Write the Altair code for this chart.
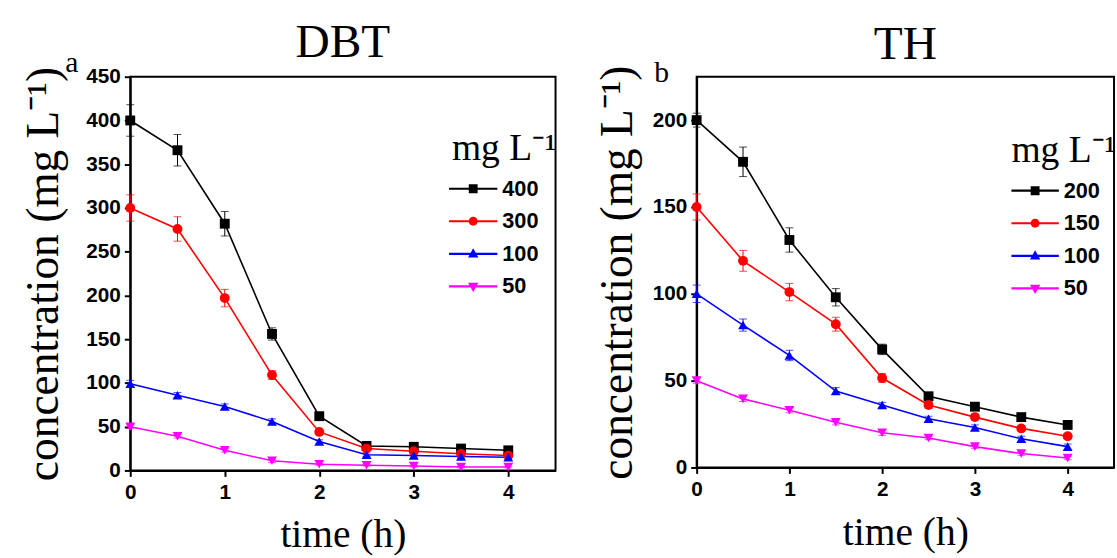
import altair as alt
import pandas as pd

# ---------------- data ----------------
times = [0, 0.5, 1, 1.5, 2, 2.5, 3, 3.5, 4]

dbt_series = ["400", "300", "100", "50"]
dbt_400 = [400, 366, 282, 156, 62, 28, 27, 25, 23]
dbt_300 = [300, 276, 197, 109, 44, 25, 22, 19, 17]
dbt_100 = [99, 86, 73, 56, 33, 18, 17, 16, 15]
dbt_50 = [50, 39, 23, 11, 7, 6, 5, 4, 4]
dbt_err_400 = [18, 18, 14, 7, 3, 2, 2, 2, 2]
dbt_err_300 = [15, 14, 10, 5, 3, 2, 2, 2, 2]
dbt_err_100 = [4, 3, 3, 3, 2, 2, 2, 2, 2]
dbt_err_50 = [2, 2, 2, 2, 1, 1, 1, 1, 1]

th_series = ["200", "150", "100", "50"]
th_200 = [200, 176, 131, 98, 68, 41, 35, 29, 24.5]
th_150 = [150, 119, 101, 82.5, 51.5, 36, 29, 22.5, 18]
th_100 = [100, 82, 64.5, 44, 36, 28, 23, 16.5, 12]
th_50 = [50, 39.5, 33, 26, 20, 17, 12, 8, 5.5]
th_err_200 = [4, 8.5, 7, 5, 3, 2, 2, 1.5, 1.5]
th_err_150 = [7.5, 6, 5, 4, 2.5, 2, 1.5, 1.5, 1.5]
th_err_100 = [5, 3.5, 3, 2, 1.5, 1.5, 1.5, 1.5, 1.5]
th_err_50 = [1.5, 1.5, 1.5, 1.5, 1.5, 1, 1, 1, 1]

dbt_ticks = [0, 50, 100, 150, 200, 250, 300, 350, 400, 450]
th_ticks = [0, 50, 100, 150, 200]
x_ticks = [0, 1, 2, 3, 4]

titles = ["DBT", "TH"]
letters = ["a", "b"]
legend_title = "mg L\u207b\u00b9"
y_title = "concentration (mg L\u207b\u00b9)"
x_title = "time (h)"

colors = ["#000000", "#ff0000", "#0000ff", "#ff00ff"]
shapes = ["square", "circle", "triangle-up", "triangle-down"]

SERIF = "Liberation Serif"
SANS = "Liberation Sans"


def long_df(series, values, errors):
    rows = []
    for s, vals, errs in zip(series, values, errors):
        for t, v, e in zip(times, vals, errs):
            rows.append({"t": t, "c": v, "lo": v - e, "hi": v + e, "series": s})
    return pd.DataFrame(rows)


def legend_paths(left, right, mc):
    # legend glyph: a line with the marker on it (units of half the nominal symbol width)
    th = 0.07
    h = 0.29
    line = f"M{left},{-th}H{right}V{th}H{left}Z"
    sq = f"M{mc-h},{-h}H{mc+h}V{h}H{mc-h}Z"
    ci = f"M{mc-h},0A{h},{h} 0 1,1 {mc+h},0A{h},{h} 0 1,1 {mc-h},0Z"
    tu = f"M{mc},-0.36L{mc+0.34},0.24H{mc-0.34}Z"
    td = f"M{mc},0.36L{mc-0.34},-0.24H{mc+0.34}Z"
    return [line + sq, line + ci, line + tu, line + td]


def panel(df, series, paths, ydom, yvals, w, h, title, title_offset, letter, letter_xy,
          leg_xy, label_offset, ytitle_x, xtitle_y):
    x_axis = alt.Axis(values=x_ticks, title=x_title, titleFont=SERIF,
                      titleFontSize=40, titleFontWeight="normal",
                      titleBaseline="alphabetic", titleY=xtitle_y,
                      labelFont=SANS, labelFontSize=21, labelFontWeight="bold",
                      labelPadding=5, labelFlush=False, format="d")
    y_axis = alt.Axis(values=yvals, title=y_title, titleFont=SERIF,
                      titleFontSize=46, titleFontWeight="normal",
                      titleBaseline="alphabetic", titleX=ytitle_x,
                      labelFont=SANS, labelFontSize=21, labelFontWeight="bold",
                      labelPadding=4, labelFlush=False, format="d")
    xs = alt.Scale(domain=[0, 4.5], nice=False)
    ys = alt.Scale(domain=ydom, nice=False)
    X = alt.X("t:Q", scale=xs, axis=x_axis)

    def Y(field):
        return alt.Y(f"{field}:Q", scale=ys, axis=y_axis)

    col = alt.Color("series:N", scale=alt.Scale(domain=series, range=colors), legend=None)
    base = alt.Chart(df)

    rules = base.mark_rule(strokeWidth=1).encode(x=X, y=Y("lo"), y2="hi:Q", color=col)
    cap_hi = base.mark_tick(orient="horizontal", size=8, thickness=1).encode(x=X, y=Y("hi"), color=col)
    cap_lo = base.mark_tick(orient="horizontal", size=8, thickness=1).encode(x=X, y=Y("lo"), color=col)
    lines = base.mark_line(strokeWidth=1.6).encode(x=X, y=Y("c"), color=col)
    points = base.mark_point(filled=True, size=100, opacity=1).encode(
        x=X, y=Y("c"), color=col,
        shape=alt.Shape("series:N", scale=alt.Scale(domain=series, range=shapes), legend=None))

    leg = alt.Legend(orient="none", legendX=leg_xy[0], legendY=leg_xy[1],
                     title=legend_title, titleFont=SERIF, titleFontSize=38,
                     titleFontWeight="normal", titleColor="black", titlePadding=6,
                     labelFont=SANS, labelFontSize=22, labelFontWeight="bold",
                     labelColor="black", labelOffset=label_offset,
                     symbolSize=961, symbolStrokeWidth=0, symbolOpacity=1,
                     rowPadding=6, padding=0)
    legend_layer = base.transform_filter("datum.t < 0").mark_point(
        filled=True, opacity=1, size=961).encode(
        x=X, y=Y("c"),
        color=alt.Color("series:N", scale=alt.Scale(domain=series, range=colors), legend=leg),
        shape=alt.Shape("series:N", scale=alt.Scale(domain=series, range=paths), legend=leg))

    letter_layer = alt.Chart(pd.DataFrame({"letter": [letter]})).mark_text(
        font=SERIF, fontSize=30, align="left", baseline="alphabetic", color="black"
    ).encode(text="letter:N", x=alt.value(letter_xy[0]), y=alt.value(letter_xy[1]))

    return alt.layer(rules, cap_hi, cap_lo, lines, points, legend_layer, letter_layer).resolve_scale(
        color="independent", shape="independent"
    ).properties(
        width=w, height=h,
        title=alt.TitleParams(title, font=SERIF, fontSize=48, fontWeight="normal",
                              color="black", offset=title_offset, baseline="alphabetic",
                              anchor="middle", frame="group"))


df_a = long_df(dbt_series, [dbt_400, dbt_300, dbt_100, dbt_50],
               [dbt_err_400, dbt_err_300, dbt_err_100, dbt_err_50])
df_b = long_df(th_series, [th_200, th_150, th_100, th_50],
               [th_err_200, th_err_150, th_err_100, th_err_50])

panel_a = panel(df_a, dbt_series, legend_paths(-1.19, 1.97, 0.39), [0, 450], dbt_ticks,
                431, 399, titles[0], -57, letters[0], (-66, -5), (326, 54), 20, -74, 77)
panel_b = panel(df_b, th_series, legend_paths(-1.0, 2.1, 0.55), [0, 225], th_ticks,
                423, 396, titles[1], -49, letters[1], (-43, 5), (319, 56), 22, -66, 78)

chart = alt.hconcat(panel_a, panel_b, spacing=36).resolve_scale(
    color="independent", shape="independent"
).properties(
    padding={"left": 19, "top": 15, "right": 0, "bottom": 0},
    background="white"
).configure_view(
    stroke="black", strokeWidth=2
).configure_axis(
    grid=False, domainColor="black", domainWidth=2, tickColor="black",
    tickWidth=2, tickSize=6, labelColor="black", titleColor="black"
)

chart.save("out.html", embed_options={"renderer": "svg", "actions": False})
